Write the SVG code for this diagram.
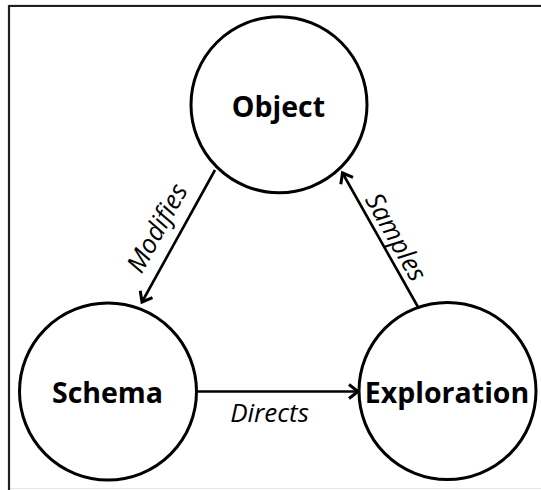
<svg xmlns="http://www.w3.org/2000/svg" width="541" height="490" viewBox="0 0 541 490">
  <style>
    .node { fill: #ffffff; stroke: #000000; stroke-width: 3; }
    .title { font-family: "Open Sans", "Liberation Sans", sans-serif; font-weight: bold; font-size: 28.5px; fill: #000000; text-anchor: middle; }
    .edge { fill: none; stroke: #000000; stroke-width: 2.6; }
    .elabel { font-family: "Open Sans", "Liberation Sans", sans-serif; font-style: italic; font-size: 26px; fill: #000000; text-anchor: middle; }
  </style>
  <defs>
    <marker id="arrow" markerUnits="userSpaceOnUse" markerWidth="16" markerHeight="18" refX="12" refY="9" orient="auto">
      <path d="M3,2 L12,9 L3,16" fill="none" stroke="#000000" stroke-width="3" stroke-linejoin="miter"/>
    </marker>
  </defs>
  <rect x="0" y="0" width="541" height="490" fill="#ffffff"/>
  <g id="frame">
    <line x1="9" y1="4.5" x2="541" y2="4.5" stroke="#e0e0e0" stroke-width="1"/>
    <line x1="9" y1="488.5" x2="541" y2="488.5" stroke="#e6e6e6" stroke-width="1"/>
    <line x1="8" y1="6" x2="541" y2="6" stroke="#231f20" stroke-width="2.2"/>
    <line x1="9" y1="5" x2="9" y2="490" stroke="#231f20" stroke-width="2.2"/>
  </g>
  <g id="connectors">
    <line class="edge" x1="215" y1="170" x2="142" y2="302" marker-end="url(#arrow)"/>
    <line class="edge" x1="418" y1="307" x2="342.5" y2="173" marker-end="url(#arrow)"/>
    <line class="edge" x1="197" y1="391.5" x2="358" y2="391.5" marker-end="url(#arrow)"/>
    <text class="elabel" transform="rotate(-61 157 228)" x="157" y="237">Modifies</text>
    <text class="elabel" transform="rotate(60.4 396 237)" x="396" y="246">Samples</text>
    <text class="elabel" x="269.5" y="422">Directs</text>
  </g>
  <g id="object">
    <circle class="node" cx="279" cy="104.7" r="88"/>
    <text class="title" x="278.5" y="117">Object</text>
  </g>
  <g id="schema">
    <circle class="node" cx="108" cy="391.5" r="88.5"/>
    <text class="title" x="107.5" y="403">Schema</text>
  </g>
  <g id="exploration">
    <circle class="node" cx="447.5" cy="391" r="88.5"/>
    <text class="title" x="447" y="403">Exploration</text>
  </g>
</svg>
